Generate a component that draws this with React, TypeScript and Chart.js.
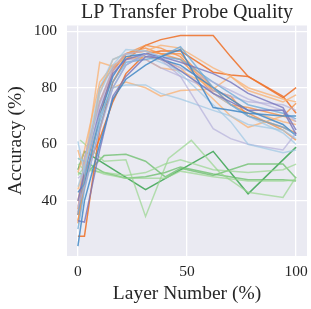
import { useEffect, useRef } from "react";
import { Chart, registerables } from "chart.js";
Chart.register(...registerables);

const titleText = "LP Transfer Probe Quality";
const xLabel = "Layer Number (%)";
const yLabel = "Accuracy (%)";
const xTicks = [0, 50, 100];
const yTicks = [40, 60, 80, 100];

const layers = [0, 3, 10, 16, 22, 31, 38, 47, 62, 70, 78, 94, 100];
const greenLayers = [0, 3, 12, 22, 31, 40, 47, 62, 78, 94, 100];
const greenLayersB = [1, 12, 22, 31, 41.5, 52, 65, 78, 94, 100];

// blue / purple models
const b1 = [24, 40, 60, 76, 83, 88, 91, 93.5, 73, 72, 71, 70, 70];
const b2 = [33, 32.5, 58, 77, 84, 91, 90.5, 86, 78, 75, 72, 72, 63.5];
const b3 = [61, 50, 78, 88, 93.5, 93, 91, 85, 74, 68, 60, 57, 58];
const b4 = [38, 45, 65, 80, 88, 92, 90, 84, 65.5, 62, 60, 58, 64];
const b5 = [35, 48, 68, 82, 89, 90, 91, 94.5, 80, 74, 70, 66, 63.5];
const b6 = [45, 52, 70, 80, 81, 81, 78, 76, 72, 70, 67, 65, 62];
const b7 = [40, 50, 72, 85, 90, 92, 91, 89, 85, 82, 78, 73, 65];
const b8 = [43, 46, 70, 84, 91, 92, 90, 88, 80, 76, 72, 67, 63];
const b9 = [36, 55, 75, 87, 92, 93, 91, 87, 82, 79, 76, 72, 68];
const b10 = [55, 54, 80, 90, 92, 91, 89, 86, 78, 74, 70, 64, 60];
const b11 = [30, 44, 66, 80, 88, 92, 91, 90, 82, 78, 74, 71, 69];
const b12 = [48, 50, 74, 86, 90, 90, 87, 84, 79, 77, 75, 74, 72];

// orange models
const o1 = [27.5, 27.5, 65, 82, 90, 95, 97, 98.5, 98.5, 91, 84, 76.5, 80];
const o2 = [35, 50, 62, 75, 85, 92, 93, 93, 85.5, 84.5, 84, 77, 71];
const o3 = [40, 52, 89, 87.5, 91, 90, 87, 86, 80, 76, 72, 68, 67];
const o4 = [58, 50, 70, 80, 82, 80, 77, 79, 79.5, 84, 80, 76, 75];
const o5 = [32, 48, 80, 87, 92, 93, 92, 92, 80, 74, 71, 65, 61.5];
const o6 = [37, 55, 75, 86, 92, 94, 92, 90, 78, 74, 73, 70, 74.5];
const o7 = [44, 52, 78, 90, 92, 93, 95, 94, 87, 84, 79, 75, 77.5];
const o8 = [50, 58, 82, 88, 90, 91, 90, 87, 76, 70, 66, 70, 68];
const o9 = [33, 45, 70, 86, 92, 95, 94, 91, 79, 77, 70, 66, 64];

// green models
const g1x = [0, 3, 31, 62, 78, 100];
const g1 = [51, 57.5, 44, 57.5, 42.5, 59];
const g2 = [61.5, 54, 54.5, 34.5, 55, 61.4, 50, 43, 41.2, 48.5];
const g3 = [50, 49, 56, 56.5, 54, 48.5, 51.5, 49, 53, 53, 48];
const g4 = [55, 54, 50, 48, 48.5, 50, 52, 49.5, 47.5, 47.5, 47];
const g5 = [53, 51, 50, 49, 50, 53, 54.5, 51, 50, 51, 53];
const g6 = [49, 52, 49.5, 48, 48, 48, 50.5, 48.5, 47, 47, 47.5];

const C = {
  blue: "rgba(66,136,198,0.85)",
  blueMid: "rgba(107,168,214,0.75)",
  blueLight: "rgba(158,200,228,0.7)",
  purple: "rgba(118,116,188,0.8)",
  purpleLight: "rgba(176,172,216,0.65)",
  orangeDark: "rgba(238,118,48,0.9)",
  orange: "rgba(245,146,72,0.8)",
  orangeLight: "rgba(250,176,112,0.75)",
  greenDark: "rgba(58,163,80,0.85)",
  green: "rgba(104,190,104,0.75)",
  greenLight: "rgba(152,214,142,0.7)",
};

const FONT = "'Liberation Serif', 'Times New Roman', serif";
const TEXT = "#262626";

function pts(xs: number[], ys: number[]) {
  return ys.map((y, i) => ({ x: xs[i], y }));
}

export default function App() {
  const ref = useRef<HTMLCanvasElement | null>(null);
  useEffect(() => {
    if (!ref.current) return;
    const series: [number[], number[], string][] = [
      [layers, b1, C.blue],
      [layers, b2, C.purple],
      [layers, b3, C.blueLight],
      [layers, b4, C.purpleLight],
      [layers, b5, C.blueMid],
      [layers, b6, C.blueLight],
      [layers, b7, C.purple],
      [layers, b8, C.blue],
      [layers, b9, C.purpleLight],
      [layers, b10, C.blueLight],
      [layers, b11, C.blueMid],
      [layers, b12, C.purpleLight],
      [layers, o3, C.orangeLight],
      [layers, o4, C.orangeLight],
      [layers, o8, C.orangeLight],
      [layers, o7, C.orangeLight],
      [layers, o5, C.orange],
      [layers, o6, C.orange],
      [layers, o9, C.orange],
      [layers, o2, C.orangeDark],
      [layers, o1, C.orangeDark],
      [greenLayersB, g2, C.greenLight],
      [greenLayers, g5, C.greenLight],
      [greenLayers, g6, C.greenLight],
      [greenLayers, g3, C.green],
      [greenLayers, g4, C.green],
      [g1x, g1, C.greenDark],
    ];
    const bg = {
      id: "bg",
      beforeDraw(chart: any) {
        const { ctx, chartArea } = chart;
        ctx.save();
        ctx.fillStyle = "#EAEAF2";
        ctx.fillRect(chartArea.left, chartArea.top, chartArea.right - chartArea.left, chartArea.bottom - chartArea.top);
        ctx.restore();
      },
    };
    const chart = new Chart(ref.current, {
      type: "line",
      data: {
        datasets: series.map(([xs, ys, c]) => ({
          data: pts(xs, ys),
          borderColor: c,
          borderWidth: 1.5,
          pointRadius: 0,
          tension: 0,
          fill: false,
        })),
      },
      options: {
        responsive: false,
        animation: false,
        layout: { padding: { left: 0, right: 4, top: 0, bottom: 0 } },
        plugins: {
          legend: { display: false },
          tooltip: { enabled: false },
          title: {
            display: true,
            text: titleText,
            color: TEXT,
            fullSize: false,
            font: { family: FONT, size: 20, weight: "normal", lineHeight: 1.2 },
            padding: { top: 1, bottom: 0.5 },
          },
        },
        scales: {
          x: {
            type: "linear",
            min: -5,
            max: 105,
            afterBuildTicks: (s: any) => {
              s.ticks = xTicks.map((v) => ({ value: v }));
            },
            afterFit: (s: any) => {
              s.height = 53;
              s.paddingLeft = 0;
              s.paddingRight = 0;
            },
            grid: { color: "#ffffff", lineWidth: 1.3, drawTicks: false },
            border: { display: false },
            ticks: { padding: 7, color: TEXT, font: { family: FONT, size: 15.5 } },
            title: {
              display: true,
              text: xLabel,
              color: TEXT,
              font: { family: FONT, size: 19.5, lineHeight: 1.2 },
              padding: { top: 0, bottom: 3.5 },
            },
          },
          y: {
            type: "linear",
            min: 20.5,
            max: 102,
            afterBuildTicks: (s: any) => {
              s.ticks = yTicks.map((v) => ({ value: v }));
            },
            afterFit: (s: any) => {
              s.width = 67;
              s.paddingTop = 0;
              s.paddingBottom = 0;
            },
            grid: { color: "#ffffff", lineWidth: 1.3, drawTicks: false },
            border: { display: false },
            ticks: { padding: 10, color: TEXT, font: { family: FONT, size: 15.5 } },
            title: {
              display: true,
              text: yLabel,
              color: TEXT,
              font: { family: FONT, size: 19.5, lineHeight: 1.2 },
              padding: { top: 4, bottom: 0 },
            },
          },
        },
      },
      plugins: [bg],
    } as any);
    return () => chart.destroy();
  }, []);
  return (
    <div style={{ position: "fixed", left: 0, top: 0, width: 311, height: 309, background: "#fff" }}>
      <canvas ref={ref} width={311} height={309} style={{ display: "block" }} />
    </div>
  );
}
